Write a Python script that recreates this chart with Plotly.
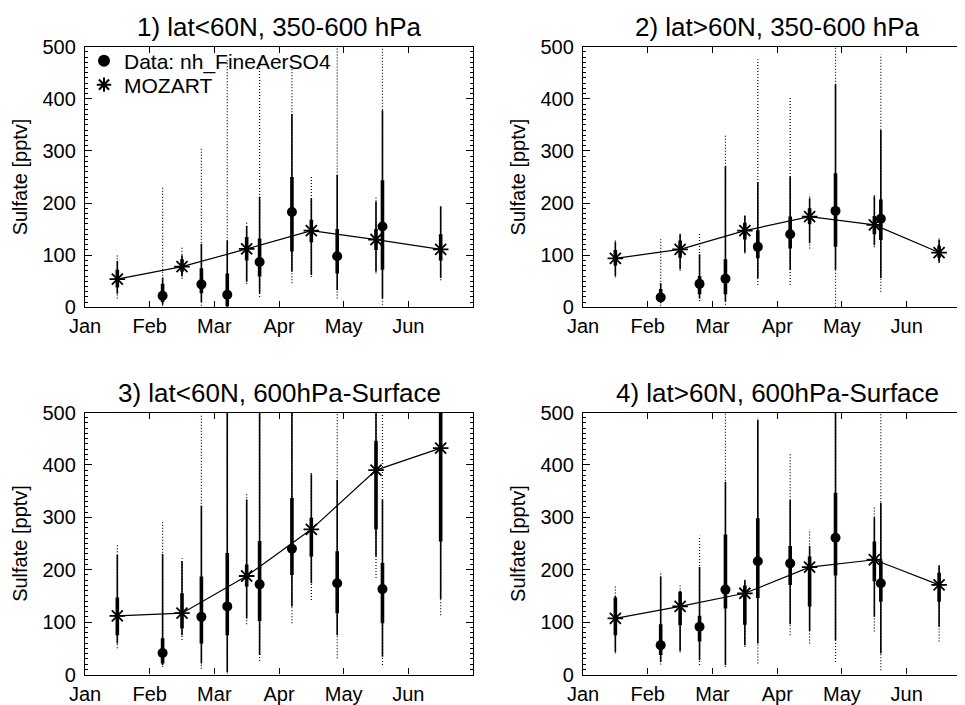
import plotly.graph_objects as go

# ---------------- data ----------------
month_labels = ["Jan", "Feb", "Mar", "Apr", "May", "Jun"]
month_ticks = [0, 1, 2, 3, 4, 5]

titles = ["1) lat<60N, 350-600 hPa", "2) lat>60N, 350-600 hPa",
          "3) lat<60N, 600hPa-Surface", "4) lat>60N, 600hPa-Surface"]

# x positions in months since Jan 1
model_x = [0.5, 1.5, 2.5, 3.5, 4.5, 5.5]
obs_x = [1.2, 1.8, 2.2, 2.7, 3.2, 3.9, 4.6]

# MOZART: median, thick (inner) range, thin range, dotted (outer) range
model_med = [
    [54, 78, 112, 147, 130, 111],
    [94, 111, 147, 174, 158, 105],
    [112, 117, 188, 277, 390, 432],
    [107, 130, 155, 205, 219, 171],
]
model_thick_lo = [
    [38, 68, 90, 125, 110, 90],
    [80, 95, 130, 160, 140, 95],
    [75, 88, 168, 225, 277, 254],
    [75, 94, 95, 130, 178, 139],
]
model_thick_hi = [
    [72, 92, 135, 168, 150, 140],
    [110, 128, 162, 190, 175, 118],
    [147, 155, 210, 299, 446, 520],
    [147, 158, 170, 225, 254, 194],
]
model_thin_lo = [
    [26, 59, 49, 62, 68, 56],
    [60, 73, 105, 123, 119, 87],
    [59, 75, 107, 174, 225, 144],
    [43, 45, 56, 83, 110, 91],
]
model_thin_hi = [
    [89, 100, 156, 209, 203, 194],
    [126, 140, 176, 209, 213, 130],
    [228, 216, 334, 382, 520, 520],
    [150, 160, 180, 245, 300, 208],
]
model_dot_lo = [
    [17, 55, 45, 58, 65, 52],
    [57, 70, 103, 113, 115, 85],
    [50, 66, 96, 142, 184, 113],
    [40, 42, 53, 59, 82, 63],
]
model_dot_hi = [
    [100, 115, 163, 250, 212, 195],
    [128, 142, 178, 217, 215, 132],
    [247, 222, 345, 385, 520, 520],
    [168, 171, 182, 277, 321, 210],
]

# Observations (nh_FineAerSO4)
obs_med = [
    [22, 44, 24, 87, 183, 98, 155],
    [19, 45, 55, 116, 140, 185, 170],
    [41, 110, 130, 172, 240, 174, 163],
    [56, 91, 162, 216, 212, 261, 174],
]
obs_thick_lo = [
    [10, 27, 2, 59, 107, 65, 72],
    [10, 25, 25, 94, 113, 116, 129],
    [21, 59, 75, 102, 190, 117, 98],
    [37, 63, 126, 146, 171, 189, 139],
]
obs_thick_hi = [
    [45, 75, 65, 132, 250, 150, 244],
    [35, 60, 92, 148, 174, 257, 207],
    [69, 187, 232, 255, 337, 235, 213],
    [96, 112, 267, 298, 245, 347, 217],
]
obs_thin_lo = [
    [5, 10, 1, 27, 68, 33, 17],
    [8, 17, 11, 56, 72, 72, 56],
    [18, 21, 5, 37, 130, 75, 34],
    [24, 27, 18, 59, 96, 66, 40],
]
obs_thin_hi = [
    [57, 122, 128, 212, 371, 254, 378],
    [46, 102, 271, 240, 251, 428, 340],
    [230, 322, 520, 520, 520, 371, 334],
    [187, 205, 368, 485, 333, 520, 328],
]
obs_dot_lo = [
    [3, 3, 0, 20, 46, 17, 5],
    [3, 12, 5, 43, 43, 1, 30],
    [15, 11, 2, 26, 98, 31, 18],
    [19, 18, 15, 21, 75, 24, 8],
]
obs_dot_hi = [
    [233, 308, 475, 468, 464, 520, 520],
    [131, 143, 330, 476, 404, 520, 485],
    [291, 495, 520, 520, 520, 497, 500],
    [197, 265, 520, 491, 423, 520, 500],
]

# ---------------- layout geometry ----------------
OFF = 8                      # page body margin of the written html
W, H = 965 - OFF, 705 - OFF  # figure size so that it ends at the window edge
FONT = "Liberation Sans, Arial, Helvetica, sans-serif"
# pixel boxes in window coordinates (left, right, top, bottom)
boxes = [(85, 473, 46.7, 307.3), (583, 965, 46.7, 307.3),
         (85, 473, 412.5, 674.5), (583, 965, 412.5, 674.5)]
xmax = [6.0, 5.9, 6.0, 5.9]
title_y = [27, 27, 393, 393]
title_cx = [279, 777, 279, 777]


def px_x(v):
    return (v - OFF) / W


def px_y(v):
    return 1 - (v - OFF) / H


def segments(xs, lo, hi):
    sx, sy = [], []
    for x, a, b in zip(xs, lo, hi):
        sx += [x, x, None]
        sy += [a, b, None]
    return sx, sy


fig = go.Figure()
for p in range(4):
    ax = "" if p == 0 else str(p + 1)
    xr, yr = "x" + ax, "y" + ax
    # dotted outer ranges
    dx1, dy1 = segments(model_x, model_dot_lo[p], model_dot_hi[p])
    dx2, dy2 = segments(obs_x, obs_dot_lo[p], obs_dot_hi[p])
    fig.add_trace(go.Scatter(x=dx1 + dx2, y=dy1 + dy2, mode="lines",
                             line=dict(color="black", width=1.2, dash="1px,2px"),
                             showlegend=False, hoverinfo="skip", xaxis=xr, yaxis=yr))
    # thin ranges
    tx1, ty1 = segments(model_x, model_thin_lo[p], model_thin_hi[p])
    tx2, ty2 = segments(obs_x, obs_thin_lo[p], obs_thin_hi[p])
    fig.add_trace(go.Scatter(x=tx1 + tx2, y=ty1 + ty2, mode="lines",
                             line=dict(color="black", width=1.6),
                             showlegend=False, hoverinfo="skip", xaxis=xr, yaxis=yr))
    # thick ranges
    kx1, ky1 = segments(model_x, model_thick_lo[p], model_thick_hi[p])
    kx2, ky2 = segments(obs_x, obs_thick_lo[p], obs_thick_hi[p])
    fig.add_trace(go.Scatter(x=kx1 + kx2, y=ky1 + ky2, mode="lines",
                             line=dict(color="black", width=3.6),
                             showlegend=False, hoverinfo="skip", xaxis=xr, yaxis=yr))
    # model line
    fig.add_trace(go.Scatter(x=model_x, y=model_med[p], mode="lines",
                             line=dict(color="black", width=1.2),
                             showlegend=False, xaxis=xr, yaxis=yr))
    # observation dots
    fig.add_trace(go.Scatter(x=obs_x, y=obs_med[p], mode="markers",
                             marker=dict(symbol="circle", size=10, color="black"),
                             name="Data: nh_FineAerSO4", showlegend=(p == 0),
                             legend="legend", xaxis=xr, yaxis=yr))
    # model stars
    fig.add_trace(go.Scatter(x=model_x, y=model_med[p], mode="markers",
                             marker=dict(symbol="asterisk-open", size=13, color="black",
                                         line=dict(color="black", width=1.8)),
                             name="MOZART", showlegend=(p == 0),
                             legend="legend2", xaxis=xr, yaxis=yr))

leg_common = dict(xanchor="left", yanchor="middle", bgcolor="rgba(0,0,0,0)",
                  borderwidth=0, font=dict(family=FONT, size=21, color="black"),
                  itemsizing="constant")
layout = dict(
    width=W, height=H, template="none",
    paper_bgcolor="white", plot_bgcolor="white",
    margin=dict(l=0, r=0, t=0, b=0),
    font=dict(family=FONT, color="black", size=20),
    showlegend=True,
    legend=dict(x=px_x(84), y=px_y(61), **leg_common),
    legend2=dict(x=px_x(84), y=px_y(85), **leg_common),
    annotations=[],
)

for p in range(4):
    l, r, t, b = boxes[p]
    sfx = "" if p == 0 else str(p + 1)
    layout["xaxis" + sfx] = dict(
        domain=[px_x(l), min(1.0, px_x(r))], range=[0, xmax[p]],
        anchor="y" + sfx, tickvals=month_ticks, ticktext=month_labels,
        ticks="inside", ticklen=6, tickwidth=1.2, tickcolor="black",
        showline=True, linecolor="black", linewidth=1.3, mirror="allticks",
        showgrid=False, zeroline=False, automargin=False,
        ticklabelstandoff=1,
        tickfont=dict(family=FONT, size=20, color="black"),
    )
    layout["yaxis" + sfx] = dict(
        domain=[px_y(b), px_y(t)], range=[0, 500],
        anchor="x" + sfx, tickvals=[0, 100, 200, 300, 400, 500],
        ticks="inside", ticklen=7, tickwidth=1.2, tickcolor="black",
        minor=dict(ticks="inside", ticklen=3, dtick=10, tickcolor="black",
                   tickwidth=1, showgrid=False),
        showline=True, linecolor="black", linewidth=1.3,
        mirror="allticks" if p in (0, 2) else False,
        showgrid=False, zeroline=False, automargin=False,
        ticklabelstandoff=4,
        tickfont=dict(family=FONT, size=20, color="black"),
        title=dict(text="Sulfate [pptv]", standoff=9,
                   font=dict(family=FONT, size=20, color="black")),
    )
    layout["annotations"].append(dict(
        text=titles[p], x=px_x(title_cx[p]), y=px_y(title_y[p]),
        xref="paper", yref="paper", xanchor="center", yanchor="middle",
        showarrow=False, font=dict(family=FONT, size=26, color="black")))

fig.update_layout(**layout)
fig.write_html("out.html")
